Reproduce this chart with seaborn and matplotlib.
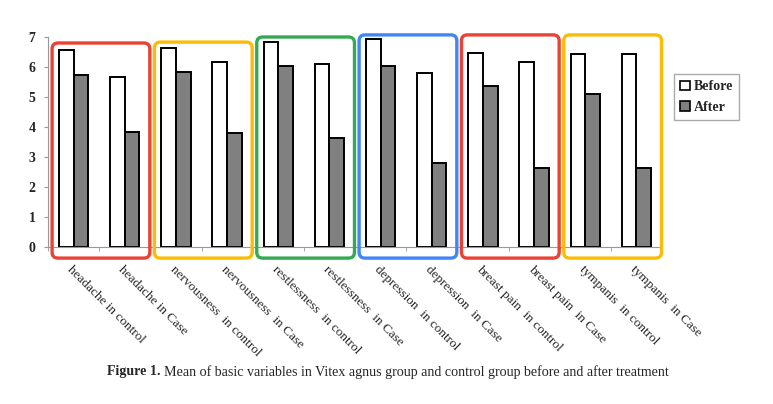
import pandas as pd
import matplotlib.pyplot as plt
import seaborn as sns
from matplotlib.patches import FancyBboxPatch
from matplotlib.ticker import FixedLocator

# Data
categories = [
    "headache in control", "headache in Case",
    "nervousness  in control", "nervousness  in Case",
    "restlessness  in control", "restlessness  in Case",
    "depression  in control", "depression  in Case",
    "breast pain  in control", "breast pain  in Case",
    "tympanis  in control", "tympanis  in Case",
]
before = [6.56, 5.67, 6.63, 6.17, 6.84, 6.10, 6.94, 5.79, 6.47, 6.17, 6.43, 6.45]
after = [5.75, 3.83, 5.85, 3.80, 6.04, 3.62, 6.03, 2.81, 5.36, 2.62, 5.11, 2.63]
phases = ["Before", "After"]

# Highlight boxes around each symptom pair
box_colors = ["#EA4335", "#FBBC05", "#34A853", "#4285F4", "#EA4335", "#FBBC05"]
box_tops = [6.8, 6.83, 7.0, 7.07, 7.07, 7.07]

df = pd.DataFrame({
    "label": categories * 2,
    "phase": ["Before"] * len(categories) + ["After"] * len(categories),
    "value": before + after,
})

sns.set_style("white")
plt.rcParams["font.family"] = ["Liberation Serif", "DejaVu Serif"]

fig = plt.figure(figsize=(7.73, 4.04), dpi=100)
ax = fig.add_axes([48 / 773, 1 - 247 / 404, 614 / 773, 210 / 404])

sns.barplot(data=df, x="label", y="value", hue="phase", hue_order=phases,
            palette={"Before": "white", "After": "#808080"},
            edgecolor="black", linewidth=1.4, width=0.575, ax=ax, legend=False)

ax.set_xlim(-0.5, len(categories) - 0.5)
ax.set_ylim(0, 7)
ax.set_yticks(range(8))
ax.set_yticklabels([str(v) for v in range(8)], fontsize=10, fontweight="bold")
ax.set_xlabel("")
ax.set_ylabel("")

ax.set_xticks(range(len(categories)))
ax.set_xticklabels(categories, rotation=-45, ha="left", va="top",
                   rotation_mode="anchor", fontsize=9.5)
ax.xaxis.set_minor_locator(FixedLocator([k + 0.5 for k in range(-1, len(categories))]))
ax.tick_params(axis="x", which="major", length=0, pad=12)
ax.tick_params(axis="x", which="minor", length=3, color="#999999", direction="out", bottom=True)
ax.tick_params(axis="y", length=3, color="#999999", direction="out", left=True, pad=6)

for side in ["top", "right"]:
    ax.spines[side].set_visible(False)
for side in ["left", "bottom"]:
    ax.spines[side].set_color("#999999")
    ax.spines[side].set_linewidth(0.8)

# Rounded highlight boxes, drawn in pixel space so corners stay round
fig.canvas.draw()
for i, (col, top) in enumerate(zip(box_colors, box_tops)):
    (x0, y0) = ax.transData.transform((2 * i - 0.42, -0.37))
    (x1, y1) = ax.transData.transform((2 * i + 1.49, top))
    patch = FancyBboxPatch((x0 + 4, y0 + 4), (x1 - x0) - 8, (y1 - y0) - 8,
                           boxstyle="round,pad=4,rounding_size=6",
                           transform=None, facecolor="none", edgecolor=col,
                           linewidth=2.4, clip_on=False, zorder=5)
    fig.add_artist(patch)

# Legend
handles = [plt.Rectangle((0, 0), 1, 1, facecolor=c, edgecolor="black", linewidth=1.2)
           for c in ["white", "#808080"]]
fig.legend(handles, phases, loc="upper left", bbox_to_anchor=(674 / 773, 1 - 74 / 404),
           frameon=True, fancybox=False, edgecolor="#aaaaaa", framealpha=1,
           handlelength=0.7, handleheight=0.7, handletextpad=0.25, labelspacing=0.55,
           borderpad=0.45, borderaxespad=0, prop={"weight": "bold", "size": 10})

# Caption
t1 = fig.text(107 / 773, 1 - 372 / 404, "Figure 1.", fontsize=10.1, fontweight="bold", va="center")
fig.canvas.draw()
bb = t1.get_window_extent()
fig.text((bb.x1 + 4) / 773, 1 - 372 / 404,
         "Mean of basic variables in Vitex agnus group and control group before and after treatment",
         fontsize=10.1, va="center")

fig.savefig("out.png", dpi=100)
